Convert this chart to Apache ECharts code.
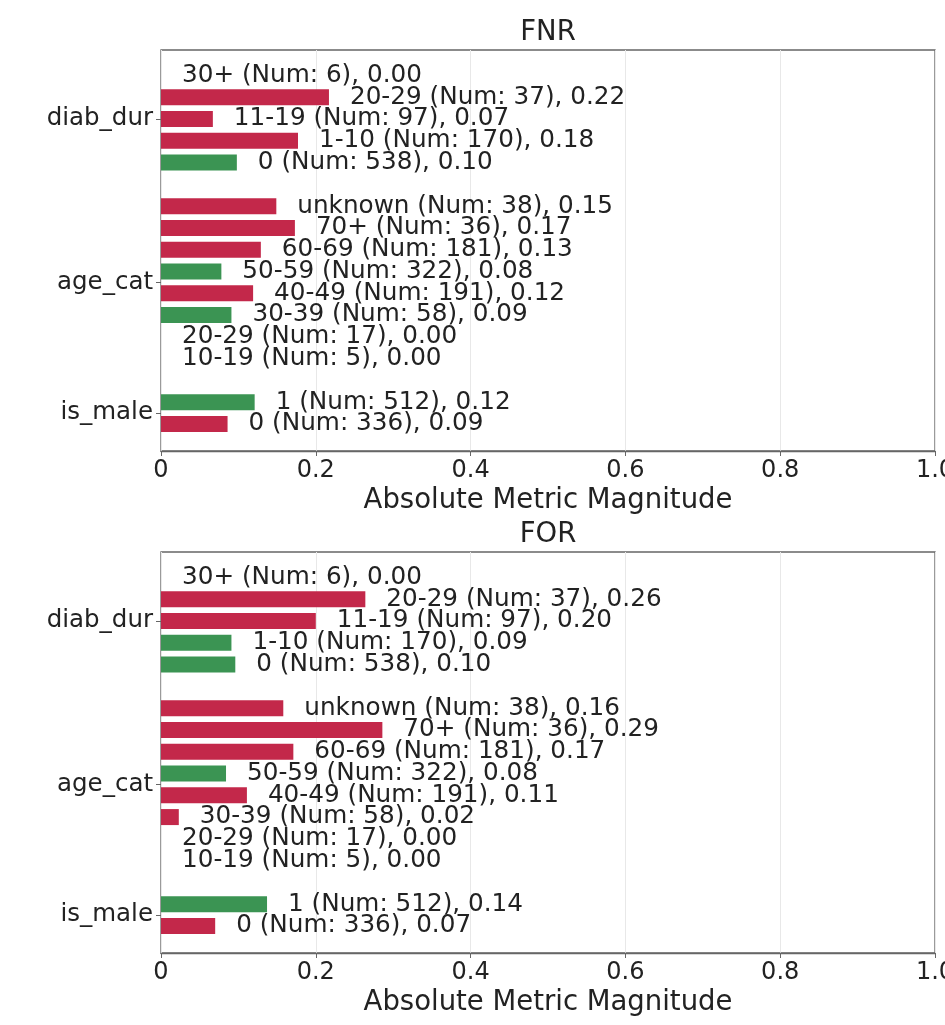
<!DOCTYPE html>
<html>
<head>
<meta charset="utf-8">
<script src="https://cdn.jsdelivr.net/npm/echarts@6/dist/echarts.min.js"></script>
<style>html,body{margin:0;padding:0;background:#fff;}#chart{width:945px;height:1025px;}</style>
</head>
<body>
<div id="chart"></div>
<script>
// ---- data ----
const slotLabels = ['30+','20-29','11-19','1-10','0','','unknown','70+','60-69','50-59','40-49','30-39','20-29','10-19','','1','0'];
const slotGroups = ['diab_dur','diab_dur','diab_dur','diab_dur','diab_dur','','age_cat','age_cat','age_cat','age_cat','age_cat','age_cat','age_cat','age_cat','','is_male','is_male'];
const groupNames = ['diab_dur','age_cat','is_male'];
const counts = [6,37,97,170,538,null,38,36,181,322,191,58,17,5,null,512,336];
const fnrValues = [0,0.217,0.067,0.177,0.098,null,0.149,0.173,0.129,0.078,0.119,0.091,0,0,null,0.121,0.086];
const fnrFlags  = ['','worse','worse','worse','better','','worse','worse','worse','better','worse','better','','','','better','worse'];
const forValues = [0,0.264,0.200,0.091,0.096,null,0.158,0.286,0.171,0.084,0.111,0.023,0,0,null,0.137,0.070];
const forFlags  = ['','worse','worse','better','better','','worse','worse','worse','better','worse','worse','','','','better','worse'];
const panelTitles = ['FNR','FOR'];
const xAxisTitle = 'Absolute Metric Magnitude';

// ---- style ----
const FONT = 'DejaVu Sans';
const RED = '#c3284a';
const GREEN = '#3b9453';
const TXT = '#222';
const FRAME = '#666';
const PLOT_LEFT = 161, PLOT_RIGHT = 10;
const FRAME_H = 401, SLOT = 21.78;

// group label positions on a half-slot point axis (35 points)
const halfPts = new Array(slotLabels.length * 2 + 1).fill('');
groupNames.forEach(g => {
  const idx = slotGroups.map((s, i) => s === g ? i : -1).filter(i => i >= 0);
  const mid = (idx[0] + idx[idx.length - 1]) / 2;
  halfPts[Math.round(2 * mid + 1)] = g;
});

const grids = [], xAxes = [], yAxes = [], series = [], graphics = [];
function panel(p, frameTop, title, values, flags) {
  const barTop = frameTop + 25.5 - SLOT / 2;
  grids.push({left: PLOT_LEFT, right: PLOT_RIGHT, top: frameTop, height: FRAME_H, show: true,
    borderColor: FRAME, borderWidth: 1.3, backgroundColor: 'transparent', outerBoundsMode: 'none', containLabel: false});
  grids.push({left: PLOT_LEFT, right: PLOT_RIGHT, top: barTop, height: SLOT * slotLabels.length,
    show: false, outerBoundsMode: 'none', containLabel: false});
  xAxes.push({gridIndex: 2 * p, type: 'value', min: 0, max: 1, interval: 0.2,
    axisLine: {show: true, lineStyle: {color: FRAME, width: 1.3}},
    axisTick: {show: true, inside: false, length: 5, lineStyle: {color: FRAME}},
    splitLine: {show: true, lineStyle: {color: '#e8e8e8', width: 1}},
    axisLabel: {fontFamily: FONT, fontSize: 24, color: TXT, margin: 8,
      formatter: v => v === 0 ? '0' : v.toFixed(1)},
    name: xAxisTitle, nameLocation: 'middle', nameGap: 36,
    nameTextStyle: {fontFamily: FONT, fontSize: 27.5, color: TXT}});
  xAxes.push({gridIndex: 2 * p + 1, type: 'value', min: 0, max: 1, show: false});
  yAxes.push({gridIndex: 2 * p, type: 'value', min: 0, max: 1, show: false});
  yAxes.push({gridIndex: 2 * p + 1, type: 'category', data: slotLabels, inverse: true, show: false});
  yAxes.push({gridIndex: 2 * p + 1, type: 'category', data: halfPts, inverse: true, boundaryGap: false,
    position: 'left',
    axisLine: {show: false},
    axisTick: {show: true, inside: false, length: 5, lineStyle: {color: FRAME},
      interval: (i, v) => v !== ''},
    axisLabel: {interval: 0, fontFamily: FONT, fontSize: 24.5, color: TXT, margin: 8},
    splitLine: {show: false}});
  series.push({type: 'bar', xAxisIndex: 2 * p + 1, yAxisIndex: 3 * p + 1,
    barWidth: 16,
    data: values.map(v => v === null ? '-' : v),
    itemStyle: {color: prm => flags[prm.dataIndex] === 'worse' ? RED : GREEN},
    label: {show: true, position: 'right', distance: 21, fontFamily: FONT, fontSize: 24.7, color: TXT,
      formatter: prm => `${slotLabels[prm.dataIndex]} (Num: ${counts[prm.dataIndex]}), ${values[prm.dataIndex].toFixed(2)}`},
    animation: false});
  graphics.push({type: 'text', x: PLOT_LEFT + (945 - PLOT_LEFT - PLOT_RIGHT) / 2, y: frameTop - 17,
    style: {text: title, fontFamily: FONT, fontSize: 27.5, fill: TXT, align: 'center', verticalAlign: 'middle'}});
}
panel(0, 50, panelTitles[0], fnrValues, fnrFlags);
panel(1, 552, panelTitles[1], forValues, forFlags);

const chart = echarts.init(document.getElementById('chart'), null, {renderer: 'canvas'});
chart.setOption({animation: false, grid: grids, xAxis: xAxes, yAxis: yAxes, series: series, graphic: graphics});
</script>
</body>
</html>
